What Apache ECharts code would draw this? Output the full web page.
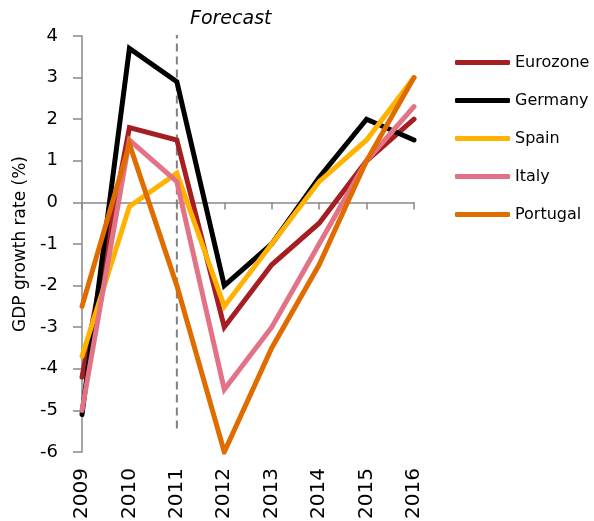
<!DOCTYPE html>
<html><head><meta charset="utf-8">
<script src="https://cdn.jsdelivr.net/npm/echarts@6/dist/echarts.min.js"></script>
<style>html,body{margin:0;padding:0;background:#fff}#c{width:594px;height:521px}</style>
</head><body><div id="c"></div>
<script>
const years = ['2009','2010','2011','2012','2013','2014','2015','2016'];
const eurozone = [-4.2, 1.8, 1.5, -3.0, -1.5, -0.5, 1.0, 2.0];
const germany  = [-5.1, 3.7, 2.9, -2.0, -1.0, 0.6, 2.0, 1.5];
const spain    = [-3.7, -0.1, 0.7, -2.5, -1.0, 0.5, 1.5, 3.0];
const italy    = [-5.0, 1.5, 0.5, -4.5, -3.0, -1.0, 1.0, 2.3];
const portugal = [-2.5, 1.4, -2.0, -6.0, -3.5, -1.5, 1.0, 3.0];
const yTicks = [-6, 4, 1]; // min, max, interval
const forecastYear = '2011';
const forecastSpan = [4.13, -5.53];

const font = "'DejaVu Sans', sans-serif";
const chart = echarts.init(document.getElementById('c'), null, {renderer:'canvas'});
const names = ['Eurozone','Germany','Spain','Italy','Portugal'];
const colors = ['#A51E22','#000000','#FFB300','#E27285','#E06C00'];
const datas = [eurozone, germany, spain, italy, portugal];
const series = [{
  name:'forecast', type:'line', xAxisIndex:0, silent:true, symbol:'none', z:2,
  data:[[forecastYear, forecastSpan[0]], [forecastYear, forecastSpan[1]]],
  lineStyle:{type:[8,5], color:'#808080', width:2}
}].concat(names.map((n,i)=>({
  name:n, type:'line', data:datas[i], symbol:'none', xAxisIndex:0,
  lineStyle:{width:5, color:colors[i], cap:'round', join:'miter'},
  itemStyle:{color:colors[i]},
  z: 3+i
})));
chart.setOption({
  animation:false,
  grid:{left:82, right:180, top:36, bottom:69, containLabel:false, outerBoundsMode:'none'},
  legend:{
    orient:'vertical', left:450, top:48, itemWidth:55, itemHeight:5, itemGap:19,
    icon:'roundRect',
    textStyle:{fontFamily:font, fontSize:16, color:'#000', lineHeight:19},
    data:names
  },
  xAxis:[{
    type:'category', data:years, boundaryGap:false, position:'bottom',
    axisLine:{show:false, onZero:false}, axisTick:{show:false},
    axisLabel:{rotate:90, fontFamily:font, fontSize:20, color:'#000', margin:16}
  },{
    type:'category', data:years, boundaryGap:false, position:'bottom',
    axisLine:{onZero:true, lineStyle:{color:'#888', width:1.5}},
    axisTick:{show:true, length:7, inside:false, lineStyle:{color:'#888', width:1.5}},
    axisLabel:{show:false}
  }],
  yAxis:{
    type:'value', min:yTicks[0], max:yTicks[1], interval:yTicks[2],
    name:'GDP growth rate (%)', nameLocation:'middle', nameGap:51,
    nameTextStyle:{fontFamily:font, fontSize:17, color:'#000'},
    axisLine:{show:true, onZero:false, lineStyle:{color:'#888', width:1.5}},
    axisTick:{show:true, length:9, lineStyle:{color:'#888', width:1.5}},
    axisLabel:{fontFamily:font, fontSize:18, color:'#000', margin:24},
    splitLine:{show:false}
  },
  graphic:[{type:'text', left:190, top:10, style:{text:'Forecast', fontFamily:font, fontSize:19, fontStyle:'italic', fill:'#000'}}],
  series:series
});
</script></body></html>
